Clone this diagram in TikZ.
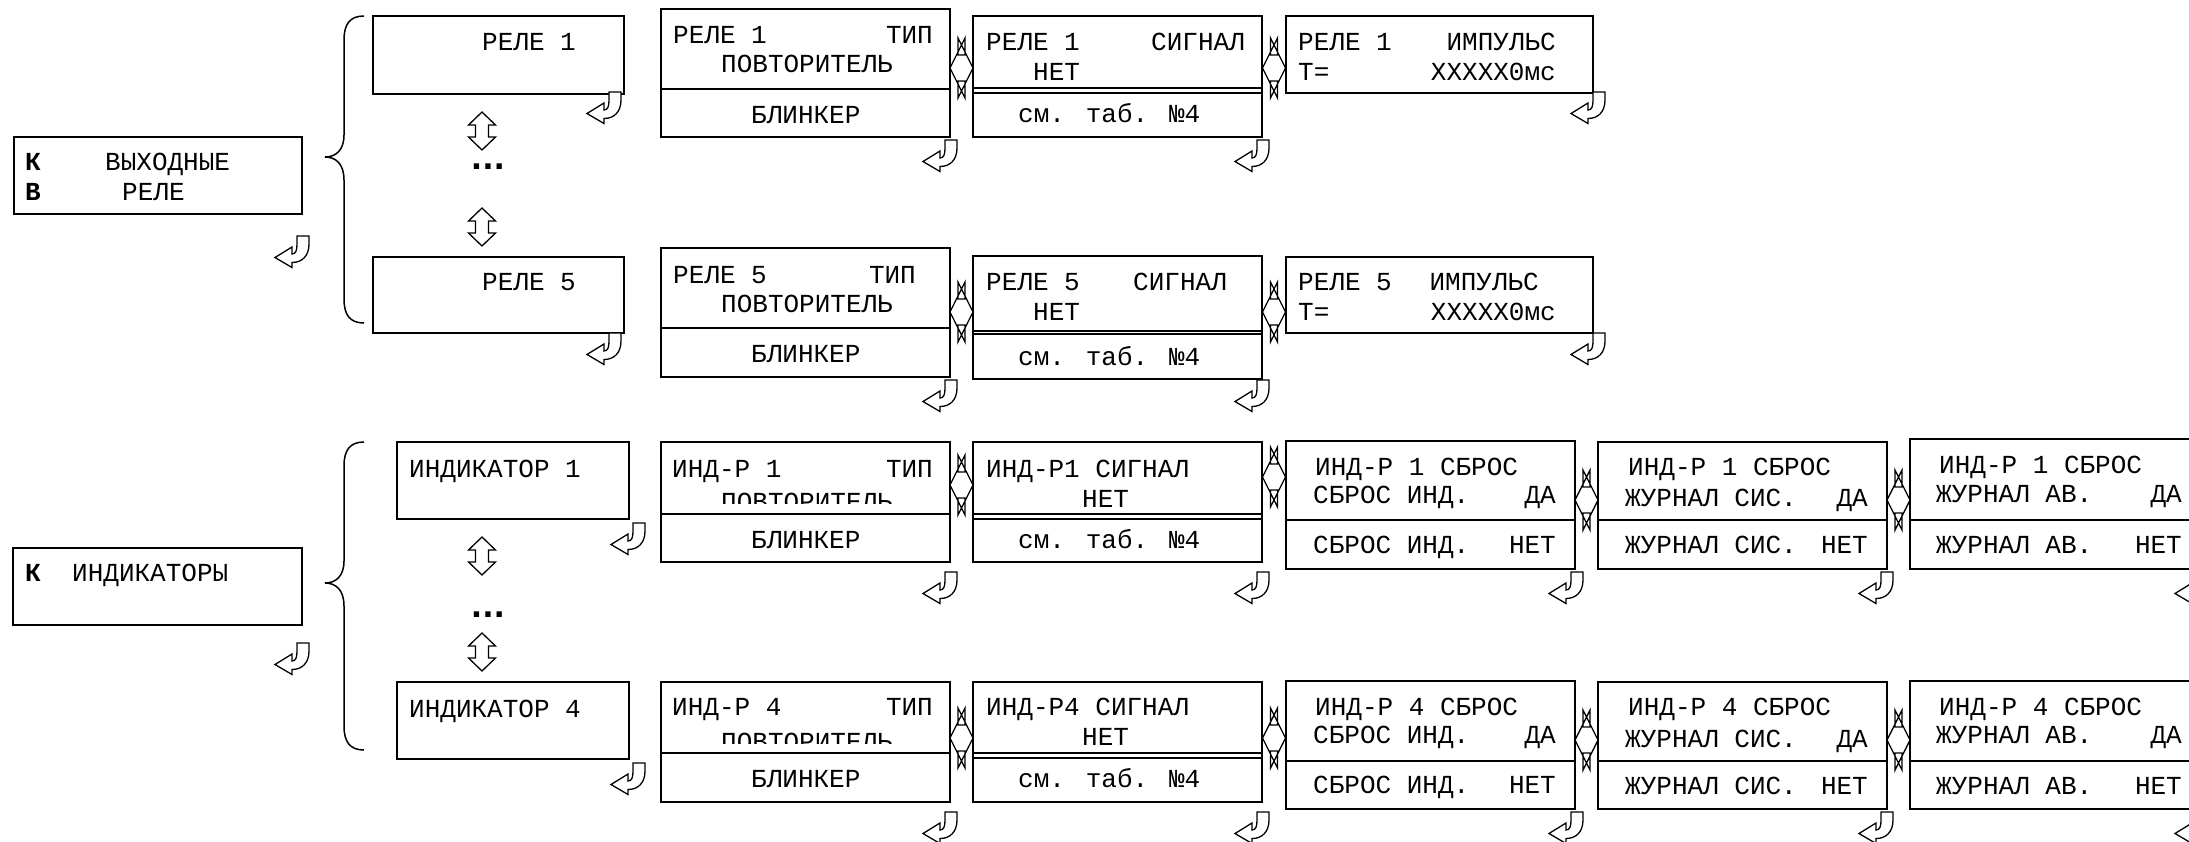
\documentclass[tikz,border=0pt]{standalone}
\usepackage{fontspec}
\newfontfamily\lcdfont{Liberation Mono}
\newfontfamily\dotfont{DejaVu Sans}
\tikzset{
 boxline/.style={line width=1.8pt},
 divline/.style={line width=1.5pt},
 arrline/.style={line width=1.3pt, fill=white, line join=miter},
 braceline/.style={line width=1.5pt},
 txt/.style={inner sep=0pt, font=\lcdfont\fontsize{26}{30}\selectfont},
 tw/.style={txt, anchor=base west},
 te/.style={txt, anchor=base east},
 dotstxt/.style={inner sep=0pt, anchor=base, font=\dotfont\bfseries\fontsize{30}{34}\selectfont},
 retarr/.pic={\draw[arrline] (0,0) -- (0,8) .. controls (0,20) and (-7,26.5) .. (-17,26.5) -- (-17,31.5) -- (-34,21.5) -- (-17,11) -- (-17,18) .. controls (-13,18) and (-12,14) .. (-12,8) -- (-12,0) -- cycle;},
 udarr/.pic={\draw[arrline] (0,0) -- (13.5,13) -- (6.5,13) -- (6.5,25) -- (13.5,25) -- (0,38) -- (-13.5,25) -- (-6.5,25) -- (-6.5,13) -- (-13.5,13) -- cycle;},
 lrarr/.pic={\draw[arrline] (-11.5,0) -- (3.5,-30) -- (3.5,-13) -- (-3.5,-13) -- (-3.5,-30) -- (11.5,0) -- (-3.5,30) -- (-3.5,13) -- (3.5,13) -- (3.5,30) -- cycle;}
}
\begin{document}
\begin{tikzpicture}[x=1pt,y=-1pt]
\useasboundingbox (0,0) rectangle (2189,841);
\clip (0,0) rectangle (2189,841);

% ================= Section 1: outputs =================
\draw[boxline] (14,137) rectangle (302,214);
\node[tw] (kA) at (25,170) {\bfseries К};
\node[tw] (vyh) at (105,170) {ВЫХОДНЫЕ};
\node[tw] (vA) at (25,200) {\bfseries В};
\node[tw] (releA) at (122,200) {РЕЛЕ};
\pic at (309,236) {retarr};

\draw[braceline] (364,16) .. controls (350,16) and (344,24) .. (344,40) -- (344,135)
  .. controls (344,150) and (336,157) .. (325,157)
  .. controls (336,157) and (344,164) .. (344,180) -- (344,299)
  .. controls (344,315) and (350,323) .. (364,323);

\draw[boxline] (373,16) rectangle (624,94);
\node[tw] (r1) at (482,50) {РЕЛЕ 1};
\pic at (621,92) {retarr};
\pic at (482,112) {udarr};
\node[dotstxt] (dots1) at (488,169) {...};
\pic at (482,208) {udarr};
\draw[boxline] (373,257) rectangle (624,333);
\node[tw] (r5) at (482,290) {РЕЛЕ 5};
\pic at (621,333) {retarr};

% row rele 1
\draw[boxline] (661,9) rectangle (950,137);
\draw[divline] (661,89) -- (950,89);
\node[tw] (t1a) at (673,43) {РЕЛЕ 1};
\node[te] (t1b) at (933,43) {ТИП};
\node[tw] (t1c) at (721,72) {ПОВТОРИТЕЛЬ};
\node[tw] (t1d) at (751,123) {БЛИНКЕР};
\pic at (957,140) {retarr};

\draw[boxline] (973,16) rectangle (1262,137);
\draw[divline] (973,88) -- (1262,88);
\draw[divline] (973,93) -- (1262,93);
\node[tw] (s1a) at (986,50) {РЕЛЕ 1};
\node[te] (s1b) at (1245,50) {СИГНАЛ};
\node[tw] (s1c) at (1033,80) {НЕТ};
\node[tw] (s1d) at (1018,122) {см. таб. №4};
\pic at (1269,140) {retarr};

\draw[boxline] (1286,16) rectangle (1593,93);
\node[tw] (i1a) at (1298,50) {РЕЛЕ 1};
\node[te] (i1b) at (1556,50) {ИМПУЛЬС};
\node[tw] (i1c) at (1298,80) {Т=};
\node[te] (i1d) at (1556,80) {XXXXX0мс};
\pic at (1605,92) {retarr};

\pic at (961.5,68) {lrarr};
\pic at (1274,68) {lrarr};

% row rele 5
\draw[boxline] (661,248) rectangle (950,377);
\draw[divline] (661,328) -- (950,328);
\node[tw] (t5a) at (673,283) {РЕЛЕ 5};
\node[te] (t5b) at (916,283) {ТИП};
\node[tw] (t5c) at (721,312) {ПОВТОРИТЕЛЬ};
\node[tw] (t5d) at (751,362) {БЛИНКЕР};
\pic at (957,380) {retarr};

\draw[boxline] (973,256) rectangle (1262,379);
\draw[divline] (973,331) -- (1262,331);
\draw[divline] (973,334) -- (1262,334);
\node[tw] (s5a) at (986,290) {РЕЛЕ 5};
\node[te] (s5b) at (1227,290) {СИГНАЛ};
\node[tw] (s5c) at (1033,320) {НЕТ};
\node[tw] (s5d) at (1018,365) {см. таб. №4};
\pic at (1269,380) {retarr};

\draw[boxline] (1286,257) rectangle (1593,333);
\node[tw] (i5a) at (1298,290) {РЕЛЕ 5};
\node[te] (i5b) at (1539,290) {ИМПУЛЬС};
\node[tw] (i5c) at (1298,320) {Т=};
\node[te] (i5d) at (1556,320) {XXXXX0мс};
\pic at (1605,333) {retarr};

\pic at (961.5,312) {lrarr};
\pic at (1274,312) {lrarr};

% ================= Section 2: indicators =================
\draw[boxline] (13,548) rectangle (302,625);
\node[tw] (kB) at (25,581) {\bfseries К};
\node[tw] (indB) at (72,581) {ИНДИКАТОРЫ};
\pic at (309,643) {retarr};

\draw[braceline] (364,442) .. controls (350,442) and (344,450) .. (344,466) -- (344,561)
  .. controls (344,576) and (336,583) .. (325,583)
  .. controls (336,583) and (344,590) .. (344,606) -- (344,726)
  .. controls (344,742) and (350,750) .. (364,750);

\draw[boxline] (397,442) rectangle (629,519);
\node[tw] (d1) at (409,477) {ИНДИКАТОР 1};
\pic at (645,523) {retarr};
\pic at (482,537) {udarr};
\node[dotstxt] (dots2) at (488,617) {...};
\pic at (482,633) {udarr};
\draw[boxline] (397,682) rectangle (629,759);
\node[tw] (d4) at (409,717) {ИНДИКАТОР 4};
\pic at (645,763) {retarr};

% row ind 1
\draw[boxline] (661,442) rectangle (950,562);
\draw[divline] (661,514) -- (950,514);
\node[tw] (tt1a) at (672,477) {ИНД-Р 1};
\node[te] (tt1b) at (933,477) {ТИП};
\begin{scope}
\clip (661,442) rectangle (950,503);
\node[tw] (tt1c) at (721,510) {ПОВТОРИТЕЛЬ};
\end{scope}
\node[tw] (tt1d) at (751,548) {БЛИНКЕР};
\pic at (957,572) {retarr};

\draw[boxline] (973,442) rectangle (1262,562);
\draw[divline] (973,514) -- (1262,514);
\draw[divline] (973,519) -- (1262,519);
\node[tw] (ss1a) at (986,477) {ИНД-Р1 СИГНАЛ};
\node[tw] (ss1b) at (1082,507) {НЕТ};
\node[tw] (ss1c) at (1018,548) {см. таб. №4};
\pic at (1269,572) {retarr};

\draw[boxline] (1286,441) rectangle (1575,569);
\draw[divline] (1286,520) -- (1575,520);
\node[tw] (sb1a) at (1315,475) {ИНД-Р 1 СБРОС};
\node[tw] (sb1b) at (1313,503) {СБРОС ИНД.};
\node[te] (sb1c) at (1556,503) {ДА};
\node[tw] (sb1d) at (1313,553) {СБРОС ИНД.};
\node[te] (sb1e) at (1556,553) {НЕТ};
\pic at (1583,572) {retarr};

\draw[boxline] (1598,442) rectangle (1887,569);
\draw[divline] (1598,520) -- (1887,520);
\node[tw] (js1a) at (1628,475) {ИНД-Р 1 СБРОС};
\node[tw] (js1b) at (1625,506) {ЖУРНАЛ СИС.};
\node[te] (js1c) at (1868,506) {ДА};
\node[tw] (js1d) at (1625,553) {ЖУРНАЛ СИС.};
\node[te] (js1e) at (1868,553) {НЕТ};
\pic at (1893,572) {retarr};

\draw[boxline] (1910,439) rectangle (2240,569);
\draw[divline] (1910,520) -- (2240,520);
\node[tw] (ja1a) at (1939,473) {ИНД-Р 1 СБРОС};
\node[tw] (ja1b) at (1936,502) {ЖУРНАЛ АВ.};
\node[te] (ja1c) at (2182,502) {ДА};
\node[tw] (ja1d) at (1936,553) {ЖУРНАЛ АВ.};
\node[te] (ja1e) at (2182,553) {НЕТ};
\pic at (2209,572) {retarr};

\pic at (961.5,485) {lrarr};
\pic at (1274,477) {lrarr};
\pic at (1586.5,500) {lrarr};
\pic at (1898.5,500) {lrarr};

% row ind 4
\draw[boxline] (661,682) rectangle (950,802);
\draw[divline] (661,753) -- (950,753);
\node[tw] (tt4a) at (672,715) {ИНД-Р 4};
\node[te] (tt4b) at (933,715) {ТИП};
\begin{scope}
\clip (661,682) rectangle (950,743);
\node[tw] (tt4c) at (721,750) {ПОВТОРИТЕЛЬ};
\end{scope}
\node[tw] (tt4d) at (751,787) {БЛИНКЕР};
\pic at (957,812) {retarr};

\draw[boxline] (973,682) rectangle (1262,802);
\draw[divline] (973,753) -- (1262,753);
\draw[divline] (973,758) -- (1262,758);
\node[tw] (ss4a) at (986,715) {ИНД-Р4 СИГНАЛ};
\node[tw] (ss4b) at (1082,745) {НЕТ};
\node[tw] (ss4c) at (1018,787) {см. таб. №4};
\pic at (1269,812) {retarr};

\draw[boxline] (1286,681) rectangle (1575,809);
\draw[divline] (1286,761) -- (1575,761);
\node[tw] (sb4a) at (1315,715) {ИНД-Р 4 СБРОС};
\node[tw] (sb4b) at (1313,743) {СБРОС ИНД.};
\node[te] (sb4c) at (1556,743) {ДА};
\node[tw] (sb4d) at (1313,793) {СБРОС ИНД.};
\node[te] (sb4e) at (1556,793) {НЕТ};
\pic at (1583,812) {retarr};

\draw[boxline] (1598,682) rectangle (1887,809);
\draw[divline] (1598,761) -- (1887,761);
\node[tw] (js4a) at (1628,715) {ИНД-Р 4 СБРОС};
\node[tw] (js4b) at (1625,747) {ЖУРНАЛ СИС.};
\node[te] (js4c) at (1868,747) {ДА};
\node[tw] (js4d) at (1625,794) {ЖУРНАЛ СИС.};
\node[te] (js4e) at (1868,794) {НЕТ};
\pic at (1893,812) {retarr};

\draw[boxline] (1910,681) rectangle (2240,809);
\draw[divline] (1910,761) -- (2240,761);
\node[tw] (ja4a) at (1939,715) {ИНД-Р 4 СБРОС};
\node[tw] (ja4b) at (1936,743) {ЖУРНАЛ АВ.};
\node[te] (ja4c) at (2182,743) {ДА};
\node[tw] (ja4d) at (1936,794) {ЖУРНАЛ АВ.};
\node[te] (ja4e) at (2182,794) {НЕТ};
\pic at (2209,812) {retarr};

\pic at (961.5,738) {lrarr};
\pic at (1274,738) {lrarr};
\pic at (1586.5,740) {lrarr};
\pic at (1898.5,740) {lrarr};
\end{tikzpicture}
\end{document}
